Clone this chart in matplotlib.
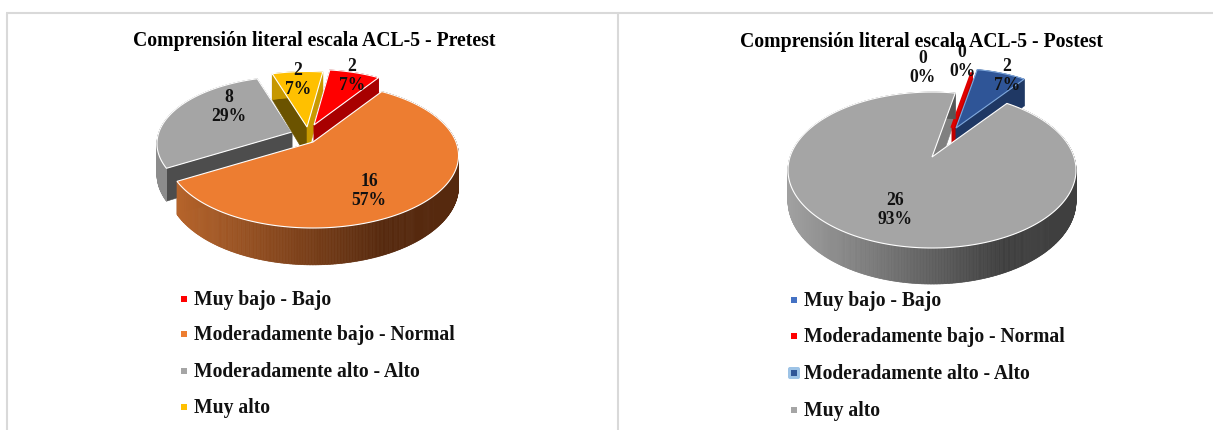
#!/usr/bin/env python3
"""Dos pies 3D (pretest / postest) de comprension literal ACL-5."""
import numpy as np
import matplotlib
matplotlib.use("Agg")
import matplotlib.pyplot as plt
from matplotlib.colors import to_rgb
from matplotlib.patches import FancyBboxPatch, Polygon, Rectangle
from matplotlib.collections import PolyCollection

plt.rcParams["font.family"] = ["Liberation Serif", "DejaVu Serif"]
plt.rcParams["font.weight"] = "bold"

# datos
categories = ["Muy bajo - Bajo", "Moderadamente bajo - Normal",
              "Moderadamente alto - Alto", "Muy alto"]
pre_values = [2, 16, 8, 2]
post_values = [0, 0, 2, 26]
pre_title = "Comprensión literal escala ACL-5 - Pretest"
post_title = "Comprensión literal escala ACL-5 - Postest"

W, H = 1213, 430
fig = plt.figure(figsize=(W/100, H/100), dpi=100)
ax = fig.add_axes([0, 0, 1, 1])
ax.set_xlim(0, W); ax.set_ylim(H, 0); ax.axis("off")

# marco
for xs, ys in [([6, W], [13, 13]), ([7, 7], [13, H]), ([618, 618], [13, H])]:
    ax.plot(xs, ys, color="#d9d9d9", lw=1.5, solid_capstyle="butt", zorder=1)


def proj(a, r, z, g, off=(0, 0)):
    """angulo (deg, horario desde arriba) -> pixel, con perspectiva"""
    a = np.radians(a)
    w = 1 + g["p"]*r*np.cos(a)
    x = g["cx"] + g["R"]*r*np.sin(a)/w + off[0]
    y = g["cy"] - g["Rk"]*r*np.cos(a)/w + z/w + off[1]
    return x, y


def side(a0, a1, g, st, off, zo):
    r = st["r"]
    t = np.linspace(a0, a1, max(2, int(abs(a1-a0)*2)))
    # lado curvo, con degradado horizontal
    xt, yt = proj(t, r, 0, g, off)
    xb, yb = proj(t, r, g["d"], g, off)
    quads, cols = [], []
    c0, c1 = np.array(to_rgb(st["side"][0])), np.array(to_rgb(st["side"][1]))
    for i in range(len(t)-1):
        quads.append([(xt[i], yt[i]), (xt[i+1], yt[i+1]), (xb[i+1], yb[i+1]), (xb[i], yb[i])])
        f = np.clip((xt[i]-g["cx"]+g["R"]) / (1.5*g["R"]), 0, 1)
        cols.append(c0 + (c1-c0)*f)
    ax.add_collection(PolyCollection(quads, facecolors=cols, edgecolors=cols, lw=0.5, zorder=zo))
    return xt, yt


def wall(a, g, color, r, off, zo):
    tip = proj(a, 0, 0, g, off); tipb = proj(a, 0, g["d"], g, off)
    o = proj(a, r, 0, g, off); ob = proj(a, r, g["d"], g, off)
    ax.add_patch(Polygon([tip, o, ob, tipb], fc=color, ec=color, lw=0.4, zorder=zo))


def pie3d(values, g, rot, styles, offsets, order):
    total = sum(values)
    edges = rot + np.cumsum([0] + list(values))*360.0/total
    zo = 2
    # paredes de corte del ultimo pie, quedan debajo de los demas
    last = order[-1]
    wall(edges[last], g, styles[last]["w0"], styles[last]["r"], offsets[last], zo)
    wall(edges[last+1], g, styles[last]["w1"], styles[last]["r"], offsets[last], zo)
    for i in order:
        st, off = styles[i], offsets[i]
        zo += 1
        if st["lw"] == 0:   # porcion vacia sin trazo
            continue
        if i != last:
            wall(edges[i], g, st["w0"], st["r"], off, zo)
            wall(edges[i+1], g, st["w1"], st["r"], off, zo)
        xt, yt = side(edges[i], edges[i+1], g, st, off, zo)
        tip = proj(0, 0, 0, g, off)
        pts = [tip] + list(zip(xt, yt))
        ax.add_patch(Polygon(pts, fc=st["top"], ec=st["edge"], lw=st["lw"], zorder=zo, joinstyle="miter"))


# Pretest
pre_geo = dict(cx=313, cy=142, R=143, Rk=70, p=0.186, d=30)
pre_styles = [
    dict(top="#ff0000", w0="#a80000", w1="#a80000", side=("#a80000", "#a80000"), edge="#ffffff", lw=0.8, r=0.93),
    dict(top="#ed7d31", w0="#8f4a1c", w1="#8f4a1c", side=("#b9662c", "#56290e"), edge="#ffffff", lw=0.8, r=1.0),
    dict(top="#a5a5a5", w0="#4d4d4d", w1="#4d4d4d", side=("#8c8c8c", "#8c8c8c"), edge="#ffffff", lw=0.8, r=0.93),
    dict(top="#ffc000", w0="#6b5300", w1="#c99a00", side=("#c99a00", "#c99a00"), edge="#ffffff", lw=0.8, r=0.93),
]
pre_offsets = [(1, -17), (0, 0), (-21, -10), (-6, -15)]
pie3d(pre_values, pre_geo, 8, pre_styles, pre_offsets, [2, 3, 0, 1])

# Postest
post_geo = dict(cx=932, cy=157, R=142, Rk=75.8, p=0.167, d=30)
post_styles = [
    dict(top="#4472c4", w0="#ffffff", w1="#ffffff", side=("#ffffff", "#ffffff"), edge="none", lw=0, r=0.9),
    dict(top="#ff0000", w0="#c00000", w1="#c00000", side=("#c00000", "#c00000"), edge="#e00000", lw=2.5, r=0.85),
    dict(top="#2f5597", w0="#1f3864", w1="#1f3864", side=("#1f3864", "#1f3864"), edge="#7fa8dc", lw=0.8, r=0.9),
    dict(top="#a5a5a5", w0="#808080", w1="#808080", side=("#a0a0a0", "#3f3f3f"), edge="#ffffff", lw=0.8, r=1.0),
]
post_offsets = [(20, -29), (20, -29), (24, -29), (0, 0)]
pie3d(post_values, post_geo, 11, post_styles, post_offsets, [0, 1, 2, 3])

# etiquetas
pre_label_pos = [(352, 76), (369, 191), (229, 107), (298, 80)]
post_label_pos = [(923, 68), (962, 62), (1007, 76), (895, 210)]
for vals, positions in [(pre_values, pre_label_pos), (post_values, post_label_pos)]:
    tot = sum(vals)
    for v, (x, y) in zip(vals, positions):
        ax.text(x, y, f"{v}\n{100*v/tot:.0f}%", ha="center", va="center",
                fontsize=12.7, color="#111111", linespacing=1.2, zorder=30)

ax.text(314, 41, pre_title, ha="center", va="center", fontsize=14.2, zorder=30)
ax.text(922, 42, post_title, ha="center", va="center", fontsize=14.2, zorder=30)

# leyendas
pre_leg_colors = ["#ff0000", "#ed7d31", "#a5a5a5", "#ffc000"]
post_leg_colors = ["#4472c4", "#ff0000", "#2f5597", "#a5a5a5"]
pre_leg_y = [299, 334, 371, 407]
post_leg_y = [300, 336, 373, 410]
for x0, ys, cols in [(184, pre_leg_y, pre_leg_colors), (794, post_leg_y, post_leg_colors)]:
    for name, y, c in zip(categories, ys, cols):
        ax.add_patch(Rectangle((x0-3, y-3), 6, 6, fc=c, ec="none", zorder=20))
        ax.text(x0+10, y+1, name, ha="left", va="center", fontsize=14.1, color="#111111", zorder=30)
ax.add_patch(FancyBboxPatch((789, post_leg_y[2]-5), 10, 10, boxstyle="round,pad=1,rounding_size=2",
                            fc="#9dc3e6", ec="none", zorder=19))

fig.savefig("out.png", dpi=100)
